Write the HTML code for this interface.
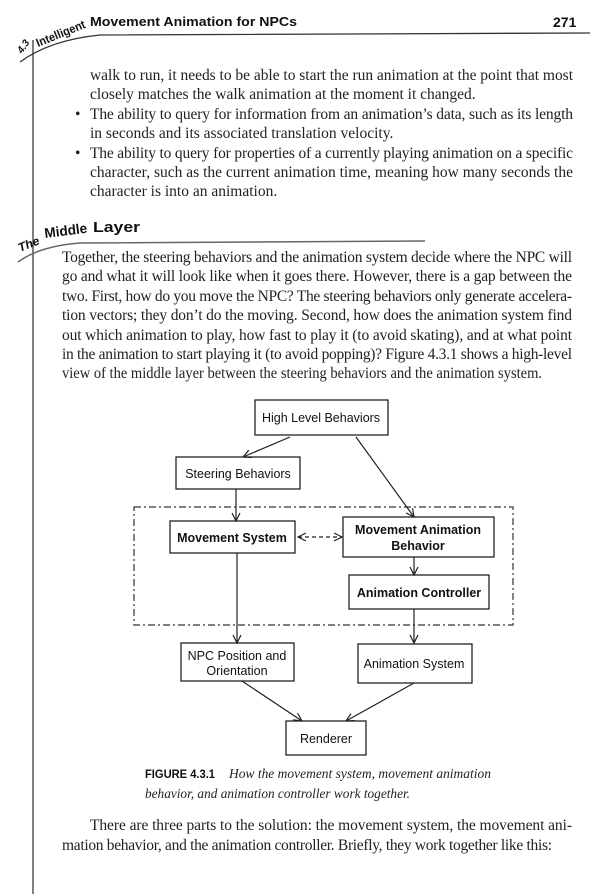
<!DOCTYPE html>
<html><head><meta charset="utf-8"><style>
html,body{margin:0;padding:0;background:#fff;}
svg{display:block}
.b{font-family:"Liberation Serif",serif;font-size:15.5px;fill:#222}
.s{font-family:"Liberation Sans",sans-serif;font-size:12.5px;fill:#111}
.sb{font-family:"Liberation Sans",sans-serif;font-size:12.5px;font-weight:bold;fill:#111}
</style></head><body>
<svg width="600" height="894" viewBox="0 0 600 894" xmlns="http://www.w3.org/2000/svg">
<defs>
<marker id="a" markerWidth="10" markerHeight="10" refX="9" refY="5" orient="auto" markerUnits="userSpaceOnUse">
<path d="M1,1 L9,5 L1,9" fill="none" stroke="#222" stroke-width="1.2"/>
</marker>
</defs>
<rect width="600" height="894" fill="#fff"/>
<line x1="33" y1="40" x2="33" y2="894" stroke="#555" stroke-width="1.5"/>
<text x="22" y="54" transform="rotate(-55 22 54)" font-family="Liberation Sans,sans-serif" font-weight="bold" font-style="italic" font-size="10" fill="#111">4.3</text>
<text x="38" y="47" transform="rotate(-22 38 47)" font-family="Liberation Sans,sans-serif" font-weight="bold" font-size="12" fill="#111" textLength="52" lengthAdjust="spacingAndGlyphs">Intelligent</text>
<text x="90" y="26" font-family="Liberation Sans,sans-serif" font-weight="bold" font-size="13" fill="#111" textLength="207" lengthAdjust="spacingAndGlyphs">Movement Animation for NPCs</text>
<text x="553" y="27" font-family="Liberation Sans,sans-serif" font-weight="bold" font-size="14" fill="#111">271</text>
<path d="M20,62 Q50,40 100,35 L590,33" fill="none" stroke="#333" stroke-width="1.3"/>
<g class="b">
<text x="90" y="80" textLength="483" lengthAdjust="spacing">walk to run, it needs to be able to start the run animation at the point that most</text>
<text x="90" y="99">closely matches the walk animation at the moment it changed.</text>
<text x="75" y="119">•</text>
<text x="90" y="119" textLength="483" lengthAdjust="spacing">The ability to query for information from an animation’s data, such as its length</text>
<text x="90" y="138">in seconds and its associated translation velocity.</text>
<text x="75" y="158">•</text>
<text x="90" y="158" textLength="483" lengthAdjust="spacing">The ability to query for properties of a currently playing animation on a specific</text>
<text x="90" y="177" textLength="483" lengthAdjust="spacing">character, such as the current animation time, meaning how many seconds the</text>
<text x="90" y="196">character is into an animation.</text>
</g>
<text x="20" y="252" transform="rotate(-22 20 252)" font-family="Liberation Sans,sans-serif" font-weight="bold" font-style="italic" font-size="12" fill="#111" textLength="22" lengthAdjust="spacingAndGlyphs">The</text>
<text x="45" y="238" transform="rotate(-7 45 238)" font-family="Liberation Sans,sans-serif" font-weight="bold" font-size="14" fill="#111" textLength="43" lengthAdjust="spacingAndGlyphs">Middle</text>
<text x="93" y="232" font-family="Liberation Sans,sans-serif" font-weight="bold" font-size="15" fill="#111" textLength="47" lengthAdjust="spacingAndGlyphs">Layer</text>
<path d="M18,262 Q40,246 80,243 L425,241" fill="none" stroke="#666" stroke-width="1.5"/>
<g class="b">
<text x="62" y="262" textLength="510" lengthAdjust="spacing">Together, the steering behaviors and the animation system decide where the NPC will</text>
<text x="62" y="281" textLength="510" lengthAdjust="spacing">go and what it will look like when it goes there. However, there is a gap between the</text>
<text x="62" y="301" textLength="510" lengthAdjust="spacing">two. First, how do you move the NPC? The steering behaviors only generate accelera-</text>
<text x="62" y="320" textLength="510" lengthAdjust="spacing">tion vectors; they don’t do the moving. Second, how does the animation system find</text>
<text x="62" y="340" textLength="510" lengthAdjust="spacing">out which animation to play, how fast to play it (to avoid skating), and at what point</text>
<text x="62" y="359" textLength="510" lengthAdjust="spacing">in the animation to start playing it (to avoid popping)? Figure 4.3.1 shows a high-level</text>
<text x="62" y="378" textLength="480" lengthAdjust="spacingAndGlyphs">view of the middle layer between the steering behaviors and the animation system.</text>
</g>
<g fill="#fff" stroke="#222" stroke-width="1.3">
<rect x="255" y="400" width="133" height="35"/>
<rect x="176" y="457" width="124" height="32"/>
<rect x="170" y="521" width="125" height="32"/>
<rect x="343" y="517" width="151" height="40"/>
<rect x="349" y="575" width="140" height="34"/>
<rect x="181" y="643" width="113" height="38"/>
<rect x="358" y="644" width="114" height="39"/>
<rect x="286" y="721" width="80" height="34"/>
</g>
<rect x="134" y="507" width="379" height="118" fill="none" stroke="#333" stroke-width="1.2" stroke-dasharray="7,3,2,3"/>
<g stroke="#222" stroke-width="1.2" fill="none" marker-end="url(#a)">
<line x1="290" y1="437" x2="243" y2="457"/>
<line x1="356" y1="437" x2="414" y2="517"/>
<line x1="236" y1="489" x2="236" y2="521"/>
<line x1="414" y1="557" x2="414" y2="575"/>
<line x1="237" y1="553" x2="237" y2="643"/>
<line x1="414" y1="609" x2="414" y2="643"/>
<line x1="242" y1="681" x2="302" y2="721"/>
<line x1="414" y1="683" x2="346" y2="721"/>
</g>
<line x1="298" y1="537" x2="342" y2="537" stroke="#222" stroke-width="1.2" stroke-dasharray="4,3" marker-end="url(#a)"/>
<path d="M306,533 L298,537 L306,541" fill="none" stroke="#222" stroke-width="1.2"/>
<text class="s" x="321" y="422" text-anchor="middle">High Level Behaviors</text>
<text class="s" x="238" y="478" text-anchor="middle">Steering Behaviors</text>
<text class="sb" x="232" y="542" text-anchor="middle">Movement System</text>
<text class="sb" x="418" y="534" text-anchor="middle">Movement Animation</text>
<text class="sb" x="418" y="550" text-anchor="middle">Behavior</text>
<text class="sb" x="419" y="597" text-anchor="middle">Animation Controller</text>
<text class="s" x="237" y="660" text-anchor="middle">NPC Position and</text>
<text class="s" x="237" y="675" text-anchor="middle">Orientation</text>
<text class="s" x="414" y="668" text-anchor="middle">Animation System</text>
<text class="s" x="326" y="743" text-anchor="middle">Renderer</text>
<text x="145" y="778" font-family="Liberation Sans,sans-serif" font-weight="bold" font-size="12" fill="#111" textLength="70" lengthAdjust="spacingAndGlyphs">FIGURE 4.3.1</text>
<text x="229" y="778" font-family="Liberation Serif,serif" font-style="italic" font-size="14" fill="#222" textLength="262" lengthAdjust="spacingAndGlyphs">How the movement system, movement animation</text>
<text x="145" y="798" font-family="Liberation Serif,serif" font-style="italic" font-size="14" fill="#222" textLength="265" lengthAdjust="spacingAndGlyphs">behavior, and animation controller work together.</text>
<g class="b">
<text x="90" y="830" textLength="482" lengthAdjust="spacing">There are three parts to the solution: the movement system, the movement ani-</text>
<text x="62" y="850" textLength="490" lengthAdjust="spacing">mation behavior, and the animation controller. Briefly, they work together like this:</text>
</g>
</svg>
</body></html>
